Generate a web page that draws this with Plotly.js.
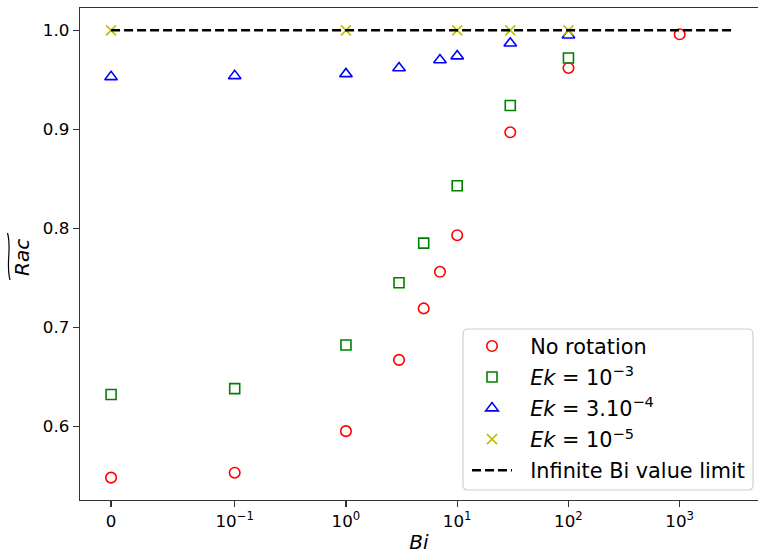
<!DOCTYPE html>
<html>
<head>
<meta charset="utf-8">
<script src="https://cdn.plot.ly/plotly-3.0.1.min.js"></script>
<style>html,body{margin:0;padding:0;overflow:hidden;background:#fff;}</style>
</head>
<body>
<div id="chart" style="width:758px;height:554px;"></div>
<script>
// ---- data ----
const biNoRot = [0, 0.1, 1, 3, 5, 7, 10, 30, 100, 1000];
const racNoRot = [0.548, 0.553, 0.595, 0.667, 0.719, 0.756, 0.793, 0.897, 0.962, 0.996];

const biEk3 = [0, 0.1, 1, 3, 5, 10, 30, 100];
const racEk3 = [0.632, 0.638, 0.682, 0.745, 0.785, 0.843, 0.924, 0.972];

const biEk34 = [0, 0.1, 1, 3, 7, 10, 30, 100];
const racEk34 = [0.953, 0.954, 0.956, 0.962, 0.970, 0.974, 0.987, 0.995];

const biEk5 = [0, 1, 10, 30, 100];
const racEk5 = [1.0, 1.0, 1.0, 1.0, 1.0];

const biLimit = [0, 3000];
const racLimit = [1.0, 1.0];

const seriesNames = ['No rotation', '<i>Ek</i> = 10<sup>−3</sup>', '<i>Ek</i> = 3.10<sup>−4</sup>', '<i>Ek</i> = 10<sup>−5</sup>', 'Infinite Bi value limit'];

const xTickBi = [0, 0.1, 1, 10, 100, 1000];
const xTickText = ['0', '10<sup>−1</sup>', '10<sup>0</sup>', '10<sup>1</sup>', '10<sup>2</sup>', '10<sup>3</sup>'];
const yTickVals = [0.6, 0.7, 0.8, 0.9, 1.0];

// symmetric log scale (linthresh 0.1, linscale 1, base 10), as matplotlib 'symlog'
const LINTHRESH = 0.1;
const LINSCALE_ADJ = 1 / (1 - 1 / 10);
function symlog(v) {
  const a = Math.abs(v);
  if (a <= LINTHRESH) return v / LINTHRESH * LINSCALE_ADJ;
  return Math.sign(v) * (LINSCALE_ADJ + Math.log10(a / LINTHRESH));
}

const FONT = 'DejaVu Sans, Verdana, sans-serif';
const PADNAME = '\u00a0\u00a0';

function markerTrace(bi, rac, name, symbol, color, size, grp) {
  return {
    type: 'scatter', mode: 'markers', name: PADNAME + name, legendgroup: grp,
    x: bi.map(symlog), y: rac,
    marker: {symbol: symbol, size: size, color: color, line: {color: color, width: 1.6}},
    hoverinfo: 'x+y'
  };
}

const traces = [
  markerTrace(biNoRot, racNoRot, seriesNames[0], 'circle-open', '#ff0000', 10.5, 'g1'),
  markerTrace(biEk3, racEk3, seriesNames[1], 'square-open', '#008000', 10, 'g2'),
  markerTrace(biEk34, racEk34, seriesNames[2], 'triangle-up-open', '#0000ff', 11, 'g3'),
  markerTrace(biEk5, racEk5, seriesNames[3], 'x-thin-open', '#bfbf00', 10, 'g4'),
  {
    type: 'scatter', mode: 'lines', name: PADNAME + seriesNames[4], legendgroup: 'g5',
    x: biLimit.map(symlog), y: racLimit,
    line: {color: '#000000', width: 2.5, dash: '9px,4px'}
  }
];

// axis extents: 5% margins like matplotlib
const xMinU = symlog(0), xMaxU = symlog(3000);
const xPad = 0.05 * (xMaxU - xMinU);

// rounded legend frame (pixel box converted to paper fractions)
function roundedBox(x0, y0, x1, y1, r) {
  const px = (x) => ((x - 80) / 678).toFixed(5);
  const py = (y) => ((500 - y) / 492).toFixed(5);
  return 'M' + px(x0 + r) + ',' + py(y0) +
    ' L' + px(x1 - r) + ',' + py(y0) + ' Q' + px(x1) + ',' + py(y0) + ' ' + px(x1) + ',' + py(y0 + r) +
    ' L' + px(x1) + ',' + py(y1 - r) + ' Q' + px(x1) + ',' + py(y1) + ' ' + px(x1 - r) + ',' + py(y1) +
    ' L' + px(x0 + r) + ',' + py(y1) + ' Q' + px(x0) + ',' + py(y1) + ' ' + px(x0) + ',' + py(y1 - r) +
    ' L' + px(x0) + ',' + py(y0 + r) + ' Q' + px(x0) + ',' + py(y0) + ' ' + px(x0 + r) + ',' + py(y0) + ' Z';
}

const layout = {
  width: 758, height: 554,
  margin: {l: 80, r: 0, t: 8, b: 54, pad: 0},
  paper_bgcolor: '#ffffff', plot_bgcolor: '#ffffff',
  font: {family: FONT, size: 16.7, color: '#000000'},
  showlegend: true,
  legend: {
    x: (467 - 80) / 678, y: (500 - 326) / 492, xanchor: 'left', yanchor: 'top',
    bgcolor: 'rgba(0,0,0,0)', borderwidth: 0,
    font: {family: FONT, size: 20.8, color: '#000000'},
    itemwidth: 40, tracegroupgap: 1, traceorder: 'grouped'
  },
  xaxis: {
    range: [xMinU - xPad, xMinU - xPad + (758 - 80) / 111.25],
    tickvals: xTickBi.map(symlog), ticktext: xTickText,
    ticks: 'outside', ticklen: 6, tickwidth: 1.3, tickcolor: '#333333',
    showline: true, linecolor: '#333333', linewidth: 1.3, mirror: true,
    showgrid: false, zeroline: false,
    tickfont: {family: FONT, size: 16.7, color: '#000000'},
    title: {text: '<i>Bi</i>', font: {family: FONT, size: 20, color: '#000000'}, standoff: 6}
  },
  yaxis: {
    range: [0.5254, 1.0226],
    tickvals: yTickVals, tickformat: '.1f',
    ticks: 'outside', ticklen: 6, tickwidth: 1.3, tickcolor: '#333333',
    showline: true, linecolor: '#333333', linewidth: 1.3, mirror: false,
    showgrid: false, zeroline: false,
    tickfont: {family: FONT, size: 16.7, color: '#000000'}
  },
  annotations: [{
    xref: 'paper', yref: 'paper', x: 0, y: 0.5, xanchor: 'center', yanchor: 'middle',
    xshift: -58, yshift: -4, textangle: -90, showarrow: false,
    text: '<i>Rac</i>', font: {family: FONT, size: 20, color: '#000000'}
  }],
  shapes: [{
    type: 'path', xref: 'paper', yref: 'paper', layer: 'above',
    path: roundedBox(463, 329, 753, 490, 5),
    fillcolor: 'rgba(255,255,255,0.8)', line: {color: '#d0d0d0', width: 1.2}
  }, {
    type: 'path', xref: 'paper', yref: 'paper',
    path: (function () {
      const px = (x) => ((x - 80) / 678).toFixed(5);
      const py = (y) => ((500 - y) / 492).toFixed(5);
      return 'M' + px(10) + ',' + py(280) + ' C' + px(5.5) + ',' + py(263) + ' ' + px(12) + ',' + py(249) + ' ' + px(7.5) + ',' + py(233);
    })(),
    line: {color: '#000000', width: 1.2}
  }]
};

Plotly.newPlot('chart', traces, layout, {staticPlot: true, displayModeBar: false});
</script>
</body>
</html>
